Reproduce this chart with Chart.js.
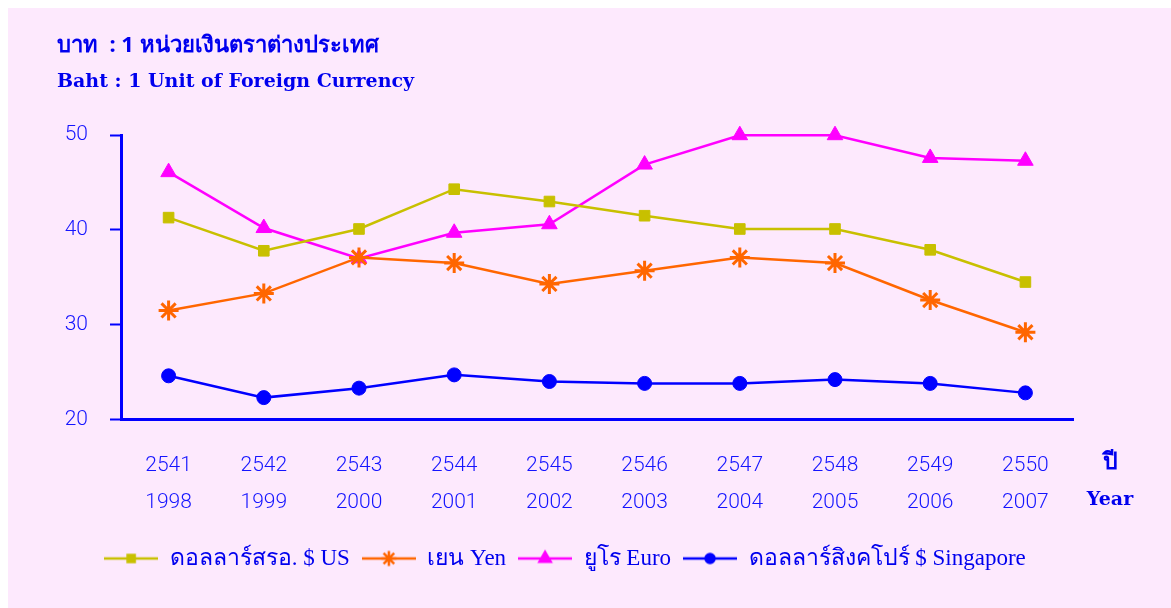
<!DOCTYPE html>
<html>
<head>
<meta charset="utf-8">
<script src="https://cdn.jsdelivr.net/npm/chart.js@4.4.0/dist/chart.umd.min.js"></script>
<style>
	body { margin: 0; background: #fff; }
	#wrap { position: absolute; left: 8px; top: 8px; width: 1163px; height: 600px; background: #fde9fd; }
</style>
</head>
<body>
<div id="wrap"><canvas id="rateChart"></canvas></div>
<script>
const thaiYears = ['2541', '2542', '2543', '2544', '2545', '2546', '2547', '2548', '2549', '2550'];
const years = ['1998', '1999', '2000', '2001', '2002', '2003', '2004', '2005', '2006', '2007'];
const usDollar = [41.3, 37.8, 40.1, 44.3, 43.0, 41.5, 40.1, 40.1, 37.9, 34.5];
const yen = [31.5, 33.3, 37.1, 36.5, 34.3, 35.7, 37.1, 36.5, 32.6, 29.2];
const euro = [46.1, 40.2, 37.0, 39.7, 40.6, 46.9, 50.0, 50.0, 47.6, 47.3];
const singapore = [24.6, 22.3, 23.3, 24.7, 24.0, 23.8, 23.8, 24.2, 23.8, 22.8];
const yTicks = [20, 30, 40, 50];

const textBlue = '#0000ee';
const tickBlue = '#1414ff';

// little line + marker pictures for the legend
function legendIcon(color, style, r) {
	let c = document.createElement('canvas');
	c.width = 54; c.height = 20;
	let ctx = c.getContext('2d');
	ctx.strokeStyle = color;
	ctx.fillStyle = color;
	ctx.lineWidth = 2.5;
	ctx.beginPath(); ctx.moveTo(0, 10); ctx.lineTo(54, 10); ctx.stroke();
	Chart.helpers.drawPoint(ctx, { pointStyle: style, radius: r, borderWidth: 2.5 }, 27, 10);
	if (style !== 'star') ctx.fill();
	return c;
}

function series(label, data, color, style, r) {
	return {
		label: label,
		data: data,
		borderColor: color,
		backgroundColor: color,
		borderWidth: 2.5,
		pointStyle: style,
		pointRadius: r,
		pointHoverRadius: r,
		pointBorderWidth: style === 'star' ? 3 : 1,
		tension: 0,
		clip: false,
		legendIcon: legendIcon(color, style, r - 2.5)
	};
}

const yearLabelPlugin = {
	id: 'yearLabel',
	afterDraw(chart) {
		let ctx = chart.ctx;
		let x = chart.chartArea.right + 37;
		let y0 = chart.chartArea.bottom;
		ctx.save();
		ctx.fillStyle = textBlue;
		ctx.textAlign = 'center';
		ctx.textBaseline = 'middle';
		ctx.font = 'bold 23px "Noto Sans", sans-serif';
		ctx.fillText('ปี', x, y0 + 43);
		ctx.font = 'bold 19px "DejaVu Serif", serif';
		ctx.fillText('Year', x, y0 + 81);
		ctx.restore();
	}
};

let rateCanvas = document.getElementById('rateChart');

new Chart(rateCanvas, {
	type: 'line',
	data: {
		labels: thaiYears.map((t, i) => [t, years[i]]),
		datasets: [
			series('ดอลลาร์สรอ. $ US', usDollar, '#c8c000', 'rect', 7.5),
			series('เยน Yen', yen, '#ff6600', 'star', 10),
			series('ยูโร Euro', euro, '#ff00ff', 'triangle', 9),
			series('ดอลลาร์สิงคโปร์ $ Singapore', singapore, '#0000ff', 'circle', 7)
		]
	},
	options: {
		responsive: true,
		maintainAspectRatio: false,
		animation: false,
		layout: { padding: { left: 49, right: 98, top: 0, bottom: 28 } },
		plugins: {
			title: {
				display: true,
				text: 'บาท  : 1 หน่วยเงินตราต่างประเทศ',
				align: 'start',
				color: textBlue,
				font: { family: '"Noto Sans", sans-serif', size: 22, weight: 'bold' },
				padding: { top: 25, bottom: 9 }
			},
			subtitle: {
				display: true,
				text: 'Baht : 1 Unit of Foreign Currency',
				align: 'start',
				color: textBlue,
				font: { family: '"DejaVu Serif", serif', size: 19, weight: 'bold' },
				padding: { top: 2, bottom: 42 }
			},
			legend: {
				position: 'bottom',
				labels: {
					usePointStyle: true,
					pointStyleWidth: 54,
					padding: 12,
					color: textBlue,
					font: { family: '"Liberation Serif", serif', size: 23 },
					generateLabels(chart) {
						return chart.data.datasets.map((ds, i) => ({
							text: ds.label,
							pointStyle: ds.legendIcon,
							fillStyle: ds.borderColor,
							strokeStyle: ds.borderColor,
							lineWidth: 0,
							fontColor: textBlue,
							datasetIndex: i,
							hidden: false
						}));
					}
				}
			},
			tooltip: { enabled: false }
		},
		scales: {
			x: {
				offset: true,
				afterFit(scale) { scale.height = scale.height - 6; },
				grid: { display: false },
				border: { display: true, color: '#0000ff', width: 3 },
				ticks: {
					color: tickBlue,
					padding: 19,
					maxRotation: 0,
					font: { family: 'Roboto', size: 21, weight: '300', lineHeight: 1.8 }
				}
			},
			y: {
				min: 20,
				max: 50,
				afterFit(scale) { scale.width = 64; },
				afterBuildTicks(scale) { scale.ticks = yTicks.map(v => ({ value: v })); },
				grid: { drawOnChartArea: false, tickLength: 11, tickWidth: 2, color: '#0000ff' },
				border: { display: true, color: '#0000ff', width: 3 },
				ticks: {
					color: tickBlue,
					padding: 22,
					font: { family: 'Roboto', size: 21, weight: '300' }
				}
			}
		}
	},
	plugins: [yearLabelPlugin]
});
</script>
</body>
</html>
